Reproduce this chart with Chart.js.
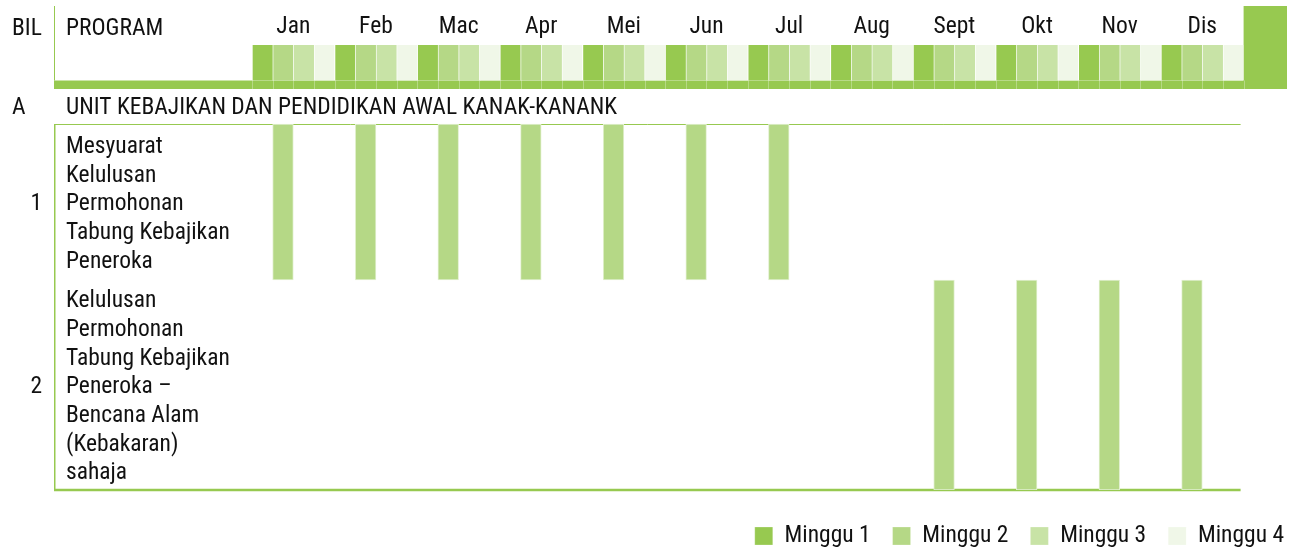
<!DOCTYPE html>
<html><head><meta charset="utf-8">
<script src="https://cdn.jsdelivr.net/npm/chart.js@4.4.1/dist/chart.umd.min.js"></script>
<style>html,body{margin:0;padding:0;background:#fff;overflow:hidden}#wrap{width:1291px;height:551px;position:relative}</style>
</head><body><div id="wrap"><canvas id="c"></canvas></div>
<script>
// ---- data ----
const months = ['Jan','Feb','Mac','Apr','Mei','Jun','Jul','Aug','Sept','Okt','Nov','Dis'];
const weekNames = ['Minggu 1','Minggu 2','Minggu 3','Minggu 4'];
const headerTexts = ['BIL','PROGRAM'];
const sectionCode = 'A';
const sectionTitle = 'UNIT KEBAJIKAN DAN PENDIDIKAN AWAL KANAK-KANANK';
const programNumbers = ['1','2'];
const program1Lines = ['Mesyuarat','Kelulusan','Permohonan','Tabung Kebajikan','Peneroka'];
const program2Lines = ['Kelulusan','Permohonan','Tabung Kebajikan','Peneroka –','Bencana Alam','(Kebakaran)','sahaja'];
// week of the month (1-4) in which each programme runs; null = not scheduled
const program1Week = [2,2,2,2,2,2,2,null,null,null,null,null];
const program2Week = [null,null,null,null,null,null,null,null,2,2,2,2];

// ---- style / layout ----
const FONT = "'Roboto Condensed','Liberation Sans Narrow','DejaVu Sans Condensed',sans-serif";
const FS = 23.5;
const TEXT = '#111111';
const weekColors = ['#97c950','#b5d886','#c8e3a6','#f0f7e8'];
const LINE = '#97c950';
// table rows in y-units (1 unit = 1px below header cell top)
const R = {blockTop:-39, cellTop:0, cellBottom:35.5, bandBottom:44, bodyTop:79, rowSplit:235, bodyBottom:445};
const TABLE_LEFT = 54;

const weekKeys = months.flatMap(m => weekNames.map(w => m + ' ' + w));

const headerSets = weekNames.map((w, k) => ({
  label: w,
  data: weekKeys.map((_, i) => (i % 4 === k ? [R.cellTop, R.cellBottom] : null)),
  backgroundColor: weekColors[k],
  borderColor: '#ffffff',
  borderWidth: {left: 1, right: 0, top: 0, bottom: 0},
  borderSkipped: false,
  grouped: false,
  barPercentage: 1,
  categoryPercentage: 1
}));
function programSet(label, weeks, y0, y1) {
  return {
    label,
    data: weekKeys.map((_, i) => (weeks[Math.floor(i / 4)] === (i % 4) + 1 ? [y0, y1] : null)),
    backgroundColor: weekColors[1],
    borderColor: '#e2f0d0',
    borderWidth: 1,
    borderSkipped: false,
    grouped: false,
    barPercentage: 1,
    categoryPercentage: 1
  };
}
const progSets = [
  programSet('Program 1', program1Week, R.bodyTop, R.rowSplit),
  programSet('Program 2', program2Week, R.rowSplit, R.bodyBottom)
];

const tablePlugin = {
  id: 'table',
  beforeDatasetsDraw(chart) {
    const {ctx, chartArea: ca, scales: {y}} = chart;
    const blockRight = ca.right + 43.4;
    const bodyRight = ca.right - 3;
    ctx.save();
    ctx.fillStyle = weekColors[0];
    ctx.fillRect(TABLE_LEFT, y.getPixelForValue(R.cellBottom), blockRight - TABLE_LEFT, y.getPixelForValue(R.bandBottom) - y.getPixelForValue(R.cellBottom));
    ctx.fillRect(ca.right, y.getPixelForValue(R.blockTop), blockRight - ca.right, y.getPixelForValue(R.bandBottom) - y.getPixelForValue(R.blockTop));
    ctx.strokeStyle = 'rgba(255,255,255,0.3)';
    ctx.lineWidth = 1;
    for (let i = 0; i <= weekKeys.length; i++) {
      const px = Math.round(ca.left + (ca.right - ca.left) * i / weekKeys.length) + 0.5;
      ctx.beginPath();
      ctx.moveTo(px, y.getPixelForValue(R.cellBottom));
      ctx.lineTo(px, y.getPixelForValue(R.bandBottom));
      ctx.stroke();
    }
    ctx.strokeStyle = LINE;
    ctx.lineWidth = 1;
    ctx.beginPath();
    ctx.moveTo(TABLE_LEFT + 0.5, y.getPixelForValue(R.blockTop));
    ctx.lineTo(TABLE_LEFT + 0.5, y.getPixelForValue(R.cellBottom));
    ctx.stroke();
    const bt = y.getPixelForValue(R.bodyTop);
    ctx.beginPath();
    ctx.moveTo(TABLE_LEFT, bt + 0.5);
    ctx.lineTo(bodyRight, bt + 0.5);
    ctx.stroke();
    const bb = y.getPixelForValue(R.bodyBottom);
    ctx.lineWidth = 1.5;
    ctx.beginPath();
    ctx.moveTo(TABLE_LEFT + 0.75, bt);
    ctx.lineTo(TABLE_LEFT + 0.75, bb);
    ctx.stroke();
    ctx.lineWidth = 2.5;
    ctx.beginPath();
    ctx.moveTo(TABLE_LEFT, bb);
    ctx.lineTo(bodyRight, bb);
    ctx.stroke();
    ctx.restore();
  },
  afterDraw(chart) {
    const {ctx, scales: {y}} = chart;
    const lh = 28.7, capHalf = FS * 0.711 / 2;
    ctx.save();
    ctx.font = FS + 'px ' + FONT;
    ctx.fillStyle = TEXT;
    ctx.textBaseline = 'alphabetic';
    const line = (t, xx, cy, align) => { ctx.textAlign = align || 'left'; ctx.fillText(t, xx, cy + capHalf); };
    const hy = y.getPixelForValue(R.blockTop + 21);
    line(headerTexts[0], 12, hy);
    line(headerTexts[1], 66, hy);
    const sy = (y.getPixelForValue(R.bandBottom) + y.getPixelForValue(R.bodyTop)) / 2 - 1;
    line(sectionCode, 12, sy);
    line(sectionTitle, 66, sy);
    const rows = [[program1Lines, R.bodyTop, R.rowSplit], [program2Lines, R.rowSplit, R.bodyBottom]];
    rows.forEach(([lines, a, b], r) => {
      const cy = (y.getPixelForValue(a) + y.getPixelForValue(b)) / 2;
      line(programNumbers[r], 42, cy, 'right');
      lines.forEach((t, i) => line(t, 66, cy + (i - (lines.length - 1) / 2) * lh));
    });
    ctx.restore();
  }
};

Chart.defaults.font.family = FONT;
Chart.defaults.color = TEXT;
new Chart(document.getElementById('c'), {
  type: 'bar',
  data: {labels: weekKeys, datasets: [...headerSets, ...progSets]},
  options: {
    responsive: true,
    maintainAspectRatio: false,
    animation: false,
    layout: {padding: {top: 6, bottom: -6.75, left: 0, right: -15}},
    plugins: {
      tooltip: {enabled: false},
      legend: {
        position: 'bottom',
        align: 'end',
        labels: {
          boxWidth: 18, boxHeight: 18, padding: 22,
          font: {size: FS}, color: TEXT,
          filter: item => item.datasetIndex < 4
        }
      }
    },
    scales: {
      x: {type: 'category', labels: weekKeys, offset: true, position: 'bottom',
          grid: {display: false, drawTicks: false}, border: {display: false}, ticks: {display: false},
          afterFit: s => { s.height = 12.25; }},
      xm: {type: 'category', labels: months, offset: true, position: 'top',
          grid: {display: false, drawTicks: false}, border: {display: false},
          ticks: {font: {size: FS}, color: TEXT, padding: 4, maxRotation: 0, autoSkip: false},
          afterFit: s => { s.height = 39; }},
      y: {type: 'linear', reverse: true, min: 0, max: R.bodyBottom, position: 'left',
          grid: {display: false, drawTicks: false}, border: {display: false}, ticks: {display: false},
          afterFit: s => { s.width = 252; }},
      yr: {type: 'linear', position: 'right',
          grid: {display: false, drawTicks: false}, border: {display: false}, ticks: {display: false},
          afterFit: s => { s.width = 62.4; }}
    }
  },
  plugins: [tablePlugin]
});
</script></body></html>
